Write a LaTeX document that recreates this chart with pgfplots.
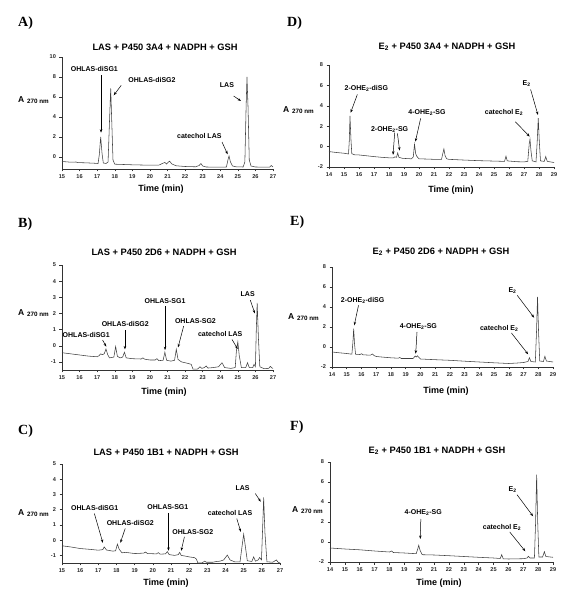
\documentclass[border=0pt]{standalone}
\usepackage{fontspec}
\setmainfont{Liberation Sans}
\newfontfamily\serifb{Liberation Serif}
\usepackage{pgfplots}
\pgfplotsset{compat=1.18}
\usetikzlibrary{arrows.meta}

\pgfplotsset{
 chrom/.style={
  scale only axis, anchor=south west,
  axis lines*=left,
  axis line style={line width=0.6pt, black!80},
  tick align=outside, major tick length=2.5pt,
  tick style={line width=0.5pt, black!80},
  ticklabel style={font=\bfseries\fontsize{5.6}{6}\selectfont, text=black!85},
  /pgf/number format/assume math mode=true,
  xtick distance=1,
  clip=false,
 },
 trace/.style={line width=0.55pt, black!75, no markers},
}
\tikzset{
 ann/.style={font=\bfseries\fontsize{7}{7}\selectfont, inner sep=0pt},
 arr/.style={line width=0.5pt, -{Stealth[length=3.5pt,width=2.5pt]}},
 ttl/.style={font=\bfseries\fontsize{9.3}{10}\selectfont, inner sep=0pt},
 xl/.style={font=\bfseries\fontsize{9}{10}\selectfont, inner sep=0pt},
 pl/.style={font=\serifb\bfseries\fontsize{14}{14}\selectfont, anchor=west, inner sep=0pt},
 yl/.style={anchor=west, inner sep=0pt},
}
\newcommand\Alab{{\bfseries\fontsize{8.5}{9}\selectfont A}\ {\bfseries\fontsize{6.3}{6}\selectfont\raisebox{-1.5pt}{270 nm}}}

\begin{document}
\begin{tikzpicture}[x=1pt,y=1pt]
\useasboundingbox (0,0) rectangle (569,600);

% ---------------- A ----------------
\begin{axis}[chrom, at={(62pt,431pt)}, width=211pt, height=112pt,
  xmin=15, xmax=27, ymin=-1.2, ymax=10, ytick={0,2,4,6,8,10}]
\addplot[trace] coordinates {(15,-0.45) (15.5,-0.52) (15.8,-0.5) (15.9,-0.56) (16.3,-0.58) (16.8,-0.62) (17.05,-0.65) (17.12,0.2) (17.2,2.0) (17.28,0.3) (17.35,-0.6) (17.5,-0.65) (17.62,-0.5) (17.7,3.5) (17.77,6.85) (17.84,3.0) (17.9,-0.3) (18.0,-0.72) (18.5,-0.75) (19.0,-0.78) (19.5,-0.8) (20.0,-0.82) (20.5,-0.82) (20.7,-0.65) (20.85,-0.55) (20.95,-0.7) (21.05,-0.5) (21.12,-0.42) (21.25,-0.7) (21.5,-0.88) (22.0,-0.95) (22.6,-0.98) (22.8,-0.85) (22.9,-0.65) (23.0,-0.9) (23.2,-1.0) (24.0,-1.02) (24.35,-1.0) (24.45,-0.2) (24.5,0.1) (24.58,-0.5) (24.7,-0.9) (24.9,-0.98) (25.3,-1.0) (25.4,-0.5) (25.47,5.0) (25.52,8.0) (25.58,5.0) (25.65,-0.3) (25.75,-0.9) (26.0,-1.0) (26.8,-1.02) (26.9,-0.85) (26.97,-0.95) (27,-1.0)};
\node[ann] at (16.84,8.77) {OHLAS-diSG1};
\draw[arr] (17.22,8.17) -- (17.22,2.43);
\node[ann] at (20.12,7.67) {OHLAS-diSG2};
\draw[arr] (18.37,7.17) -- (17.94,6.17);
\node[ann] at (24.38,7.17) {LAS};
\draw[arr] (24.76,6.1) -- (25.18,5.6);
\node[ann] at (22.81,2.1) {catechol LAS};
\draw[arr] (24.1,1.5) -- (24.42,0.27);
\end{axis}

% ---------------- B ----------------
\begin{axis}[chrom, at={(62pt,230pt)}, width=211pt, height=105pt,
  xmin=15, xmax=27, ymin=-1.5, ymax=5, ytick={-1,0,1,2,3,4,5}]
\addplot[trace] coordinates {(15,-0.43) (15.5,-0.5) (16.0,-0.57) (16.5,-0.64) (17.0,-0.68) (17.1,-0.62) (17.2,-0.5) (17.3,-0.55) (17.4,-0.5) (17.5,-0.2) (17.6,-0.55) (17.7,-0.75) (17.95,-0.7) (18.05,-0.05) (18.15,-0.65) (18.3,-0.75) (18.45,-0.7) (18.55,-0.4) (18.65,-0.75) (19.0,-0.8) (19.5,-0.82) (19.6,-0.75) (19.7,-0.83) (20.0,-0.88) (20.3,-0.88) (20.4,-0.8) (20.5,-0.92) (20.75,-0.9) (20.85,-0.4) (20.95,-0.9) (21.2,-0.95) (21.4,-0.9) (21.5,-0.22) (21.6,-0.85) (21.8,-1.0) (22.0,-1.05) (22.2,-1.1) (22.35,-1.15) (22.45,-1.45) (22.7,-1.45) (22.85,-1.3) (22.95,-1.4) (23.1,-1.35) (23.2,-1.25) (23.3,-1.38) (23.6,-1.35) (23.9,-1.3) (24.1,-1.05) (24.25,-1.35) (24.6,-1.4) (24.85,-1.35) (24.92,-0.3) (25.0,0.25) (25.08,-0.6) (25.2,-1.35) (25.45,-1.35) (25.55,-1.05) (25.65,-1.35) (25.85,-1.35) (25.92,-1.15) (26.0,-1.3) (26.05,1.0) (26.1,2.66) (26.17,0.5) (26.25,-1.3) (26.5,-1.42) (26.75,-1.4) (26.85,-1.28) (26.95,-1.38) (27,-1.4)};
\node[ann] at (16.38,0.66) {OHLAS-diSG1};
\draw[arr] (17.31,0.35) -- (17.52,-0.06);
\node[ann] at (18.6,1.32) {OHLAS-diSG2};
\draw[arr] (18.58,0.97) -- (18.58,-0.23);
\node[ann] at (20.86,2.76) {OHLAS-SG1};
\draw[arr] (20.86,2.45) -- (20.86,-0.27);
\node[ann] at (22.59,1.55) {OHLAS-SG2};
\draw[arr] (21.92,1.22) -- (21.6,-0.1);
\node[ann] at (24.0,0.7) {catechol LAS};
\draw[arr] (24.67,0.39) -- (24.99,-0.2);
\node[ann] at (25.56,3.18) {LAS};
\draw[arr] (25.71,2.82) -- (25.97,2.0);
\end{axis}

% ---------------- C ----------------
\begin{axis}[chrom, at={(62pt,37pt)}, width=218pt, height=99pt,
  xmin=15, xmax=27, ymin=-1.5, ymax=5, ytick={-1,0,1,2,3,4,5}]
\addplot[trace] coordinates {(15,-0.37) (15.5,-0.45) (16.0,-0.55) (16.5,-0.6) (17.0,-0.66) (17.25,-0.62) (17.32,-0.44) (17.45,-0.65) (17.8,-0.72) (17.95,-0.7) (18.05,-0.26) (18.15,-0.6) (18.3,-0.83) (18.5,-0.8) (19.0,-0.88) (19.5,-0.85) (19.6,-0.78) (19.7,-0.88) (20.2,-0.9) (20.3,-0.82) (20.4,-0.92) (20.7,-0.9) (20.8,-0.75) (20.9,-0.95) (21.2,-1.0) (21.4,-0.95) (21.48,-0.8) (21.56,-1.0) (21.8,-1.05) (22.0,-1.1) (22.3,-1.15) (22.4,-1.25) (22.48,-1.5) (22.7,-1.5) (22.85,-1.38) (22.95,-1.45) (23.3,-1.45) (23.5,-1.4) (23.7,-1.38) (23.9,-1.3) (24.1,-0.98) (24.25,-1.3) (24.5,-1.42) (24.8,-1.42) (24.9,-0.5) (25.0,0.39) (25.08,-0.3) (25.2,-1.35) (25.45,-1.4) (25.55,-1.1) (25.65,-1.38) (25.8,-1.3) (25.88,-1.14) (25.98,-1.3) (26.05,1.0) (26.1,2.8) (26.17,0.5) (26.28,-1.42) (26.6,-1.45) (26.8,-1.3) (26.9,-1.45) (27,-1.5)};
\node[ann] at (16.8,2.08) {OHLAS-diSG1};
\draw[arr] (16.78,1.75) -- (17.25,-0.18);
\node[ann] at (18.76,1.14) {OHLAS-diSG2};
\draw[arr] (18.48,0.77) -- (18.21,-0.18);
\node[ann] at (20.83,2.14) {OHLAS-SG1};
\draw[arr] (20.86,1.79) -- (20.86,-0.7);
\node[ann] at (22.2,0.55) {OHLAS-SG2};
\draw[arr] (21.74,0.22) -- (21.56,-0.7);
\node[ann] at (24.25,1.75) {catechol LAS};
\draw[arr] (24.62,1.42) -- (24.84,0.55);
\node[ann] at (24.94,3.4) {LAS};
\draw[arr] (25.64,3.06) -- (25.94,2.52);
\end{axis}

% ---------------- D ----------------
\begin{axis}[chrom, at={(329pt,433pt)}, width=225pt, height=102pt,
  xmin=14, xmax=29, ymin=-2, ymax=8, ytick={-2,0,2,4,6,8}]
\addplot[trace] coordinates {(14,-0.49) (14.5,-0.58) (15.0,-0.65) (15.3,-0.72) (15.35,0.5) (15.4,3.0) (15.46,0.8) (15.52,-0.7) (15.7,-0.8) (16.0,-0.82) (16.5,-0.9) (17.0,-0.98) (17.5,-1.05) (18.0,-1.1) (18.3,-1.1) (18.4,-1.0) (18.5,-1.05) (18.58,-0.62) (18.66,-1.05) (18.9,-1.15) (19.5,-1.2) (19.62,-1.0) (19.7,0.23) (19.78,-0.7) (19.85,-0.95) (20.0,-1.2) (20.5,-1.22) (21.0,-1.25) (21.5,-1.25) (21.6,-0.6) (21.66,-0.23) (21.74,-0.9) (21.85,-1.2) (22.0,-1.25) (23.0,-1.32) (24.0,-1.38) (25.0,-1.42) (25.7,-1.45) (25.8,-0.94) (25.88,-1.4) (26.5,-1.48) (27.0,-1.5) (27.25,-1.45) (27.35,0.3) (27.4,0.72) (27.47,-0.5) (27.55,-1.4) (27.8,-1.5) (27.88,0.5) (27.95,2.8) (28.02,0.5) (28.1,-1.4) (28.35,-1.45) (28.45,-0.98) (28.55,-1.45) (29,-1.56)};
\node[ann] at (16.49,5.7) {2-OHE\textsubscript{2}-diSG};
\draw[arr] (15.89,5.11) -- (15.44,3.32);
\node[ann] at (18.04,1.69) {2-OHE\textsubscript{2}-SG};
\draw[arr] (18.38,1.37) -- (18.27,-0.81);
\draw[arr] (18.56,1.3) -- (18.71,-0.39);
\node[ann] at (20.53,3.32) {4-OHE\textsubscript{2}-SG};
\draw[arr] (20.11,2.77) -- (19.76,0.49);
\node[ann] at (25.67,3.32) {catechol E\textsubscript{2}};
\draw[arr] (26.42,2.44) -- (27.38,0.98);
\node[ann] at (27.18,6.19) {E\textsubscript{2}};
\draw[arr] (27.44,5.6) -- (27.93,3.1);
\end{axis}

% ---------------- E ----------------
\begin{axis}[chrom, at={(332pt,233pt)}, width=221pt, height=100pt,
  xmin=14, xmax=29, ymin=-2, ymax=8, ytick={-2,0,2,4,6,8}]
\addplot[trace] coordinates {(14,-0.5) (14.5,-0.58) (15.0,-0.65) (15.35,-0.72) (15.42,0.5) (15.47,1.83) (15.53,0.3) (15.6,-0.73) (15.9,-0.75) (16.0,-0.67) (16.1,-0.78) (16.6,-0.82) (16.75,-0.7) (16.85,-0.85) (17.0,-0.95) (17.5,-1.02) (18.0,-1.08) (18.5,-1.12) (18.6,-1.05) (18.7,-1.15) (19.5,-1.15) (19.65,-0.9) (19.72,-1.0) (19.8,-0.88) (19.9,-1.05) (20.0,-1.2) (21.0,-1.27) (22.0,-1.33) (23.0,-1.42) (24.0,-1.5) (25.0,-1.58) (26.0,-1.65) (26.6,-1.6) (27.0,-1.55) (27.3,-1.45) (27.4,-1.07) (27.5,-1.45) (27.8,-1.5) (27.88,1.5) (27.95,5.0) (28.02,1.5) (28.1,-1.4) (28.35,-1.45) (28.45,-0.93) (28.55,-1.4) (29,-1.5)};
\node[ann] at (16.08,4.67) {2-OHE\textsubscript{2}-diSG};
\draw[arr] (15.8,4.17) -- (15.51,2.17);
\node[ann] at (19.86,2.0) {4-OHE\textsubscript{2}-SG};
\draw[arr] (19.77,1.5) -- (19.68,-0.67);
\node[ann] at (25.35,1.83) {catechol E\textsubscript{2}};
\draw[arr] (26.18,1.4) -- (27.31,-0.73);
\node[ann] at (26.25,5.67) {E\textsubscript{2}};
\draw[arr] (26.57,5.17) -- (27.72,2.93);
\end{axis}

% ---------------- F ----------------
\begin{axis}[chrom, at={(330pt,38pt)}, width=223pt, height=100pt,
  xmin=14, xmax=29, ymin=-2, ymax=8, ytick={-2,0,2,4,6,8}]
\addplot[trace] coordinates {(14,-0.6) (15,-0.7) (16,-0.78) (17,-0.9) (18,-1.0) (18.15,-0.9) (18.25,-1.05) (19,-1.1) (19.8,-1.17) (19.9,-0.7) (19.97,-0.33) (20.05,-0.8) (20.2,-1.27) (21,-1.3) (22,-1.37) (23,-1.45) (24,-1.53) (25,-1.6) (25.45,-1.65) (25.55,-1.27) (25.65,-1.68) (26,-1.7) (27,-1.67) (27.25,-1.6) (27.35,-1.43) (27.45,-1.6) (27.75,-1.6) (27.83,2.0) (27.9,6.73) (27.97,2.0) (28.05,-1.5) (28.3,-1.5) (28.42,-0.97) (28.52,-1.45) (29,-1.53)};
\node[ann] at (20.27,2.9) {4-OHE\textsubscript{2}-SG};
\draw[arr] (20.11,2.3) -- (20.07,0.3);
\node[ann] at (25.57,1.47) {catechol E\textsubscript{2}};
\draw[arr] (26.09,1.0) -- (27.14,-0.93);
\node[ann] at (26.29,5.23) {E\textsubscript{2}};
\draw[arr] (26.58,4.73) -- (27.66,2.57);
\end{axis}

% ---------------- titles, axis labels, panel letters ----------------
\node[ttl] at (165,553) {LAS + P450 3A4 + NADPH + GSH};
\node[ttl] at (447,553) {E\textsubscript{2} + P450 3A4 + NADPH + GSH};
\node[ttl] at (164,348) {LAS + P450 2D6 + NADPH + GSH};
\node[ttl] at (441,348) {E\textsubscript{2} + P450 2D6 + NADPH + GSH};
\node[ttl] at (166,148) {LAS + P450 1B1 + NADPH + GSH};
\node[ttl] at (437,149) {E\textsubscript{2} + P450 1B1 + NADPH + GSH};

\node[xl] at (161,411) {Time (min)};
\node[xl] at (451,410) {Time (min)};
\node[xl] at (164,208) {Time (min)};
\node[xl] at (446,209) {Time (min)};
\node[xl] at (166,17) {Time (min)};
\node[xl] at (439,17) {Time (min)};

\node[yl] at (18,500) {\Alab};
\node[yl] at (18,287) {\Alab};
\node[yl] at (18,87) {\Alab};
\node[yl] at (283,490) {\Alab};
\node[yl] at (288,283) {\Alab};
\node[yl] at (292,90) {\Alab};

\node[pl] at (18,577) {A)};
\node[pl] at (287,577) {D)};
\node[pl] at (18,376) {B)};
\node[pl] at (290,378) {E)};
\node[pl] at (18,169) {C)};
\node[pl] at (290,173) {F)};
\end{tikzpicture}
\end{document}
